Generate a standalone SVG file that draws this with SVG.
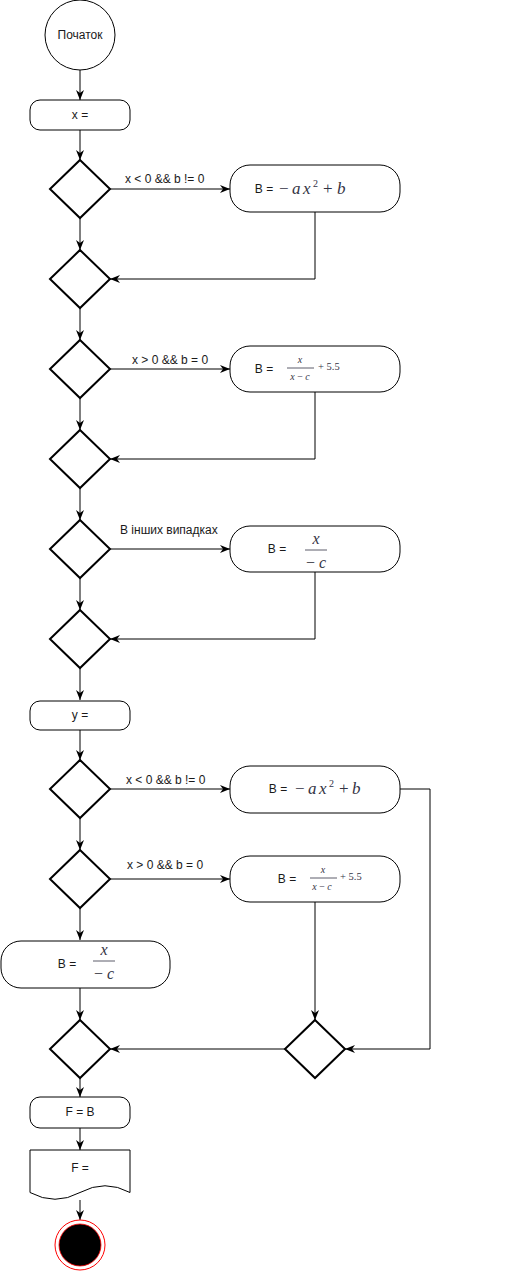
<svg xmlns="http://www.w3.org/2000/svg" width="509" height="1271" viewBox="0 0 509 1271">
<style>
.sh{fill:#fff;stroke:#000;stroke-width:1}
.dm{fill:#fff;stroke:#000;stroke-width:2}
.t{font-family:"Liberation Sans",Arial,sans-serif;font-size:12px;fill:#1a1a1a;text-anchor:middle;dominant-baseline:central}
.lb{font-family:"Liberation Sans",Arial,sans-serif;font-size:12px;fill:#1a1a1a}
.f{font-family:"Liberation Serif","Times New Roman",serif;fill:#333344}
.c{fill:none;stroke:#000;stroke-width:1;marker-end:url(#ar)}
.fl{stroke:#333344;stroke-width:0.8}
</style>
<defs>
<marker id="ar" markerUnits="userSpaceOnUse" viewBox="0 0 10 8" refX="10" refY="4" markerWidth="10" markerHeight="8" orient="auto">
<path d="M0,0 L10,4 L0,8 L3,4 Z" fill="#000"/>
</marker>
</defs>
<g id="connectors">
<path class="c" d="M80,70 V100"/>
<path class="c" d="M80,130 V160"/>
<path class="c" d="M110,189 H230"/>
<path class="c" d="M80,218 V250"/>
<path class="c" d="M315,212 V279 H110"/>
<path class="c" d="M80,308 V340"/>
<path class="c" d="M110,369 H230"/>
<path class="c" d="M80,398 V430"/>
<path class="c" d="M315,392 V459 H110"/>
<path class="c" d="M80,488 V520"/>
<path class="c" d="M110,549 H230"/>
<path class="c" d="M80,578 V610"/>
<path class="c" d="M315,572 V639 H110"/>
<path class="c" d="M80,668 V700"/>
<path class="c" d="M80,730 V760"/>
<path class="c" d="M110,789 H230"/>
<path class="c" d="M80,818 V850"/>
<path class="c" d="M110,879 H230"/>
<path class="c" d="M80,908 V940"/>
<path class="c" d="M80,988 V1020"/>
<path class="c" d="M400,789 H430 V1049 H345"/>
<path class="c" d="M315,902 V1020"/>
<path class="c" d="M285,1049 H110"/>
<path class="c" d="M80,1078 V1097"/>
<path class="c" d="M80,1128 V1150"/>
<path class="c" d="M80,1200 V1220"/>
<text class="lb" x="125" y="183">x &lt; 0 &amp;&amp; b != 0</text>
<text class="lb" x="132" y="364">x &gt; 0 &amp;&amp; b = 0</text>
<text class="lb" x="120" y="534">В інших випадках</text>
<text class="lb" x="126" y="784">x &lt; 0 &amp;&amp; b != 0</text>
<text class="lb" x="127" y="869">x &gt; 0 &amp;&amp; b = 0</text>
</g>
<g id="start">
<circle class="sh" cx="80" cy="35" r="35"/>
<text class="t" x="80" y="35">Початок</text>
</g>
<g id="input-x">
<rect class="sh" x="30" y="100" width="100" height="30" rx="10"/>
<text class="t" x="80" y="115">x =</text>
</g>
<g id="d1"><path class="dm" d="M80,160 L110,189 L80,218 L50,189 Z"/></g>
<g id="b1">
<rect class="sh" x="230" y="165" width="170" height="47" rx="20"/>
<text class="t" x="264" y="189">B =</text>
<text class="f" y="194" font-size="17"><tspan x="279">−</tspan><tspan x="292" font-style="italic">a</tspan><tspan x="303" font-style="italic">x</tspan><tspan x="313" dy="-7" font-size="10">2</tspan><tspan x="323" dy="7">+</tspan><tspan x="337" font-style="italic">b</tspan></text>
</g>
<g id="d2"><path class="dm" d="M80,250 L110,279 L80,308 L50,279 Z"/></g>
<g id="d3"><path class="dm" d="M80,340 L110,369 L80,398 L50,369 Z"/></g>
<g id="b2">
<rect class="sh" x="230" y="346" width="170" height="46" rx="20"/>
<text class="t" x="264" y="369">B =</text>
<text class="f" x="300" y="363" font-size="10" font-style="italic" text-anchor="middle">x</text>
<line class="fl" x1="287" y1="368" x2="314" y2="368"/>
<text class="f" x="300" y="380" font-size="10" text-anchor="middle"><tspan font-style="italic">x</tspan> − <tspan font-style="italic">c</tspan></text>
<text class="f" x="318" y="370" font-size="10.5">+ 5.5</text>
</g>
<g id="d4"><path class="dm" d="M80,430 L110,459 L80,488 L50,459 Z"/></g>
<g id="d5"><path class="dm" d="M80,520 L110,549 L80,578 L50,549 Z"/></g>
<g id="b3">
<rect class="sh" x="230" y="526" width="170" height="46" rx="20"/>
<text class="t" x="277" y="549">B =</text>
<text class="f" x="316" y="544" font-size="16" font-style="italic" text-anchor="middle">x</text>
<line class="fl" x1="305" y1="550" x2="327" y2="550"/>
<text class="f" x="316" y="568" font-size="16" text-anchor="middle">− <tspan font-style="italic">c</tspan></text>
</g>
<g id="d6"><path class="dm" d="M80,610 L110,639 L80,668 L50,639 Z"/></g>
<g id="input-y">
<rect class="sh" x="30" y="701" width="100" height="29" rx="10"/>
<text class="t" x="80" y="715">y =</text>
</g>
<g id="d7"><path class="dm" d="M80,760 L110,789 L80,818 L50,789 Z"/></g>
<g id="b4">
<rect class="sh" x="230" y="766" width="170" height="47" rx="20"/>
<text class="t" x="278" y="789">B =</text>
<text class="f" y="794" font-size="17"><tspan x="295">−</tspan><tspan x="308" font-style="italic">a</tspan><tspan x="319" font-style="italic">x</tspan><tspan x="329" dy="-7" font-size="10">2</tspan><tspan x="339" dy="7">+</tspan><tspan x="352" font-style="italic">b</tspan></text>
</g>
<g id="d8"><path class="dm" d="M80,850 L110,879 L80,908 L50,879 Z"/></g>
<g id="b5">
<rect class="sh" x="230" y="856" width="170" height="46" rx="20"/>
<text class="t" x="287" y="879">B =</text>
<text class="f" x="323" y="873" font-size="10" font-style="italic" text-anchor="middle">x</text>
<line class="fl" x1="310" y1="878" x2="337" y2="878"/>
<text class="f" x="322" y="890" font-size="10" text-anchor="middle"><tspan font-style="italic">x</tspan> − <tspan font-style="italic">c</tspan></text>
<text class="f" x="340" y="880" font-size="10.5">+ 5.5</text>
</g>
<g id="b6">
<rect class="sh" x="1" y="941" width="169" height="47" rx="20"/>
<text class="t" x="67" y="964">B =</text>
<text class="f" x="104" y="955" font-size="16" font-style="italic" text-anchor="middle">x</text>
<line class="fl" x1="93" y1="961" x2="115" y2="961"/>
<text class="f" x="104" y="979" font-size="16" text-anchor="middle">− <tspan font-style="italic">c</tspan></text>
</g>
<g id="d9"><path class="dm" d="M80,1020 L110,1049 L80,1078 L50,1049 Z"/></g>
<g id="d10"><path class="dm" d="M315,1020 L345,1049 L315,1078 L285,1049 Z"/></g>
<g id="assign-f">
<rect class="sh" x="30" y="1097" width="100" height="31" rx="10"/>
<text class="t" x="80" y="1112">F = B</text>
</g>
<g id="output-f">
<path class="sh" d="M30,1150 H130 V1192.5 Q105,1179 80,1192.5 Q55,1206 30,1192.5 Z"/>
<text class="t" x="80" y="1168">F =</text>
</g>
<g id="end">
<circle cx="80" cy="1245" r="25" fill="#fff" stroke="#ff0000" stroke-width="1"/>
<circle cx="80" cy="1245" r="21" fill="#000" stroke="#ff0000" stroke-width="0.8"/>
</g>
</svg>
